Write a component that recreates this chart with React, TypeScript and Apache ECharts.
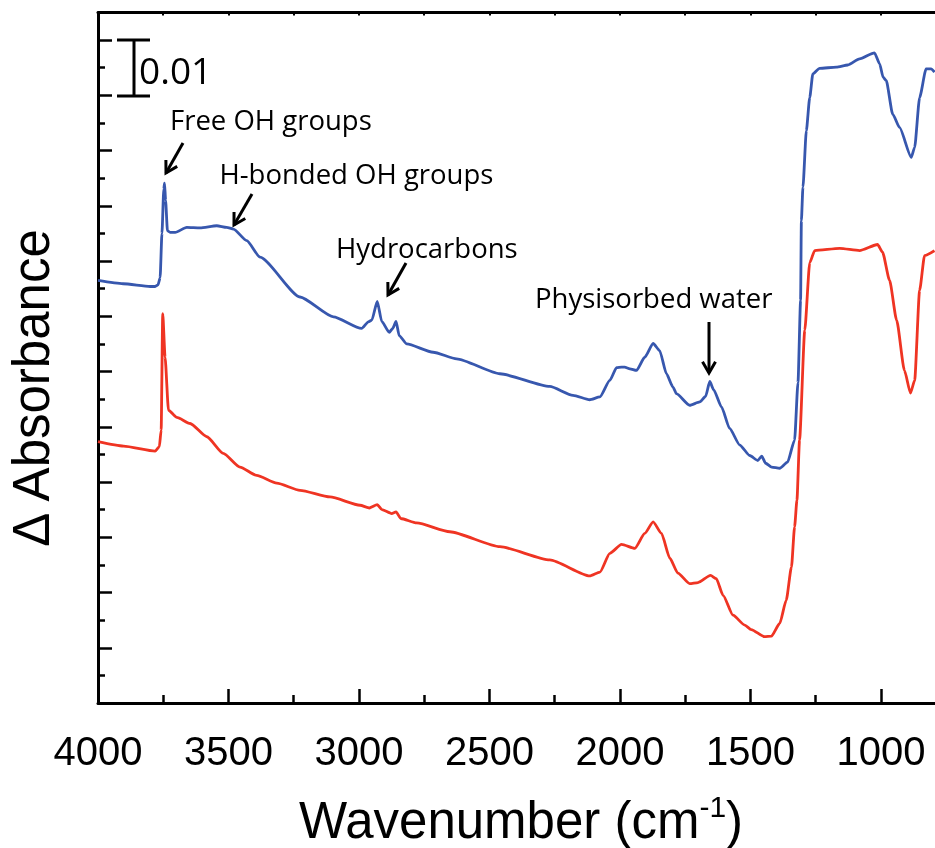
import React, { useEffect, useRef } from 'react';
import * as echarts from 'echarts';

// Wavenumber (cm-1), delta absorbance
const blueSpectrum: [number, number][] = [
  [4000, 0.0765], [3904, 0.0759], [3800, 0.0754], [3781, 0.0754], [3770, 0.0757], [3762, 0.077],
  [3755, 0.085], [3748, 0.093], [3745, 0.0941], [3741, 0.091], [3734, 0.0855], [3724, 0.0852],
  [3704, 0.0852], [3660, 0.0861], [3609, 0.086], [3545, 0.0864], [3507, 0.0861], [3481, 0.0858],
  [3430, 0.0837], [3379, 0.0807], [3226, 0.0735], [3098, 0.0699], [2990, 0.0678], [2964, 0.069],
  [2951, 0.0693], [2930, 0.0727], [2913, 0.0691], [2884, 0.0671], [2871, 0.0678], [2858, 0.0691],
  [2846, 0.0665], [2817, 0.065], [2716, 0.0635], [2626, 0.0623], [2460, 0.0596], [2269, 0.0573],
  [2180, 0.0557], [2116, 0.0549], [2077, 0.0554], [2039, 0.0584], [2013, 0.0607], [1994, 0.0608],
  [1982, 0.0608], [1962, 0.0605], [1937, 0.0602], [1905, 0.0626], [1873, 0.0651], [1848, 0.0638],
  [1822, 0.0596], [1797, 0.0572], [1784, 0.056], [1733, 0.0539], [1694, 0.0545], [1672, 0.0555],
  [1656, 0.0582], [1641, 0.0567], [1611, 0.0536], [1580, 0.0497], [1541, 0.0467], [1503, 0.0448],
  [1472, 0.0439], [1457, 0.0447], [1442, 0.0434], [1419, 0.0427], [1388, 0.0425], [1358, 0.0436],
  [1331, 0.0476], [1318, 0.058], [1308, 0.0729], [1305, 0.0873], [1299, 0.0934], [1286, 0.1036],
  [1273, 0.1096], [1261, 0.1139], [1235, 0.1149], [1171, 0.1151], [1127, 0.1155], [1082, 0.1166],
  [1025, 0.1177], [1005, 0.1157], [992, 0.1133], [980, 0.1127], [955, 0.1066], [929, 0.1042],
  [884, 0.0988], [871, 0.1006], [852, 0.1096], [827, 0.1148], [808, 0.1148], [795, 0.1142],
];

const redSpectrum: [number, number][] = [
  [4000, 0.0473], [3902, 0.0465], [3781, 0.0456], [3765, 0.0464], [3758, 0.0494], [3752, 0.0705],
  [3743, 0.0626], [3730, 0.053], [3698, 0.0517], [3647, 0.0506], [3583, 0.0482], [3520, 0.0452],
  [3456, 0.0427], [3392, 0.0412], [3315, 0.0398], [3226, 0.0385], [3111, 0.0373], [2996, 0.0358],
  [2960, 0.0353], [2930, 0.0359], [2912, 0.035], [2875, 0.0343], [2858, 0.0346], [2840, 0.0334],
  [2779, 0.0326], [2652, 0.031], [2460, 0.0283], [2269, 0.0259], [2116, 0.023], [2077, 0.0237],
  [2039, 0.0271], [1994, 0.0287], [1943, 0.028], [1905, 0.0307], [1873, 0.0328], [1841, 0.0307],
  [1809, 0.0262], [1778, 0.0235], [1733, 0.0216], [1701, 0.0218], [1653, 0.0231], [1631, 0.0225],
  [1605, 0.0195], [1567, 0.0159], [1522, 0.0141], [1497, 0.0133], [1446, 0.012], [1420, 0.0121],
  [1388, 0.0144], [1363, 0.0186], [1343, 0.0246], [1331, 0.0319], [1322, 0.0367], [1312, 0.0476],
  [1292, 0.0675], [1273, 0.0797], [1254, 0.0819], [1158, 0.0823], [1082, 0.0819], [1013, 0.083],
  [994, 0.0816], [967, 0.0765], [940, 0.0693], [910, 0.0602], [887, 0.0561], [871, 0.0584],
  [852, 0.0747], [833, 0.081], [795, 0.0819],
];

const xMajorTicks = [4000, 3500, 3000, 2500, 2000, 1500, 1000];
const xMinorTicks = [3750, 3250, 2750, 2250, 1750, 1250, 750];
const X_MIN = 793;
const X_MAX = 4000;

const annotations = ['Free OH groups', 'H-bonded OH groups', 'Hydrocarbons', 'Physisorbed water'];
const scaleBarLabel = '0.01';
const xTitle = 'Wavenumber (cm';
const xTitleSup = '-1';
const yTitle = 'Δ Absorbance';

const BLUE = '#3757AE';
const RED = '#EF3423';
const ANNOT_FONT = '"Open Sans", "Noto Sans", sans-serif';
const AXIS_FONT = '"Liberation Sans", Arial, sans-serif';

function arrow(x1: number, y1: number, x2: number, y2: number) {
  const dx = x2 - x1;
  const dy = y2 - y1;
  const L = Math.hypot(dx, dy);
  const ux = dx / L;
  const uy = dy / L;
  const h = 13;
  const a = Math.PI / 6;
  const rot = (t: number) => [ux * Math.cos(t) - uy * Math.sin(t), ux * Math.sin(t) + uy * Math.cos(t)];
  const r1 = rot(a);
  const r2 = rot(-a);
  return [
    { type: 'line', shape: { x1, y1, x2, y2 }, style: { stroke: '#000', lineWidth: 3 } },
    {
      type: 'polyline',
      shape: { points: [[x2 - h * r1[0], y2 - h * r1[1]], [x2, y2], [x2 - h * r2[0], y2 - h * r2[1]]] },
      style: { stroke: '#000', lineWidth: 3, fill: null },
    },
  ];
}

function annot(text: string, x: number, y: number, size = 27.5) {
  return {
    type: 'text',
    x,
    y,
    style: { text, fontSize: size, fontFamily: ANNOT_FONT, fill: '#000', align: 'left', verticalAlign: 'middle' },
  };
}

export default function App() {
  const ref = useRef<HTMLDivElement>(null);
  useEffect(() => {
    if (!ref.current) return;
    const chart = echarts.init(ref.current, undefined, { renderer: 'svg' });
    const lineAxis = { color: '#000', width: 3 };
    const tickStyle = { color: '#000', width: 2.5 };
    const option: any = {
      animation: false,
      grid: { left: 98, right: 0, top: 12.5, bottom: 145, containLabel: false },
      xAxis: [
        {
          type: 'value', inverse: true, min: X_MIN, max: X_MAX, position: 'bottom',
          axisLine: { show: true, onZero: false, lineStyle: lineAxis },
          axisTick: { show: true, inside: true, length: 14, customValues: xMajorTicks, lineStyle: tickStyle },
          axisLabel: {
            show: true, margin: 28, fontSize: 40, fontFamily: AXIS_FONT, color: '#000',
            customValues: xMajorTicks, formatter: (v: number) => String(v),
          },
          splitLine: { show: false },
        },
        {
          type: 'value', inverse: true, min: X_MIN, max: X_MAX, position: 'bottom',
          axisLine: { show: false, onZero: false },
          axisTick: { show: true, inside: true, length: 8, customValues: xMinorTicks, lineStyle: tickStyle },
          axisLabel: { show: false }, splitLine: { show: false },
        },
        {
          type: 'value', inverse: true, min: X_MIN, max: X_MAX, position: 'top',
          axisLine: { show: true, onZero: false, lineStyle: lineAxis },
          axisTick: {
            show: true, inside: true, length: 3, customValues: [...xMajorTicks, ...xMinorTicks],
            lineStyle: { color: '#000', width: 2 },
          },
          axisLabel: { show: false }, splitLine: { show: false },
        },
      ],
      yAxis: {
        type: 'value', min: 0, max: 0.125, interval: 0.01,
        axisLine: { show: true, onZero: false, lineStyle: lineAxis },
        axisTick: { show: true, inside: true, length: 14, lineStyle: tickStyle },
        minorTick: { show: true, splitNumber: 2, length: 7, lineStyle: tickStyle },
        axisLabel: { show: false }, splitLine: { show: false }, minorSplitLine: { show: false },
      },
      series: [
        {
          type: 'line', data: redSpectrum, xAxisIndex: 0, showSymbol: false, smooth: 0.2,
          smoothMonotone: 'x', lineStyle: { color: RED, width: 2.8 }, z: 3,
        },
        {
          type: 'line', data: blueSpectrum, xAxisIndex: 0, showSymbol: false, smooth: 0.2,
          smoothMonotone: 'x', lineStyle: { color: BLUE, width: 2.8 }, z: 3,
        },
      ],
      graphic: [
        {
          type: 'text', x: 31.5, y: 388, rotation: Math.PI / 2,
          style: { text: yTitle, fontSize: 51, fontFamily: AXIS_FONT, fill: '#000', align: 'center', verticalAlign: 'middle' },
        },
        {
          type: 'text', x: 521, y: 820,
          style: {
            text: `{a|${xTitle}}{s|${xTitleSup}}{a|)}`,
            align: 'center', verticalAlign: 'middle', fill: '#000',
            rich: {
              a: { fontSize: 51, fontFamily: AXIS_FONT, fill: '#000', lineHeight: 58 },
              s: { fontSize: 30, fontFamily: AXIS_FONT, fill: '#000', verticalAlign: 'top', lineHeight: 58, padding: [0, 0, 22, 0] },
            },
          },
        },
        annot(annotations[0], 170, 119),
        annot(annotations[1], 219.5, 173.5),
        annot(annotations[2], 336, 247.5),
        annot(annotations[3], 535, 297.5),
        ...arrow(183, 143, 166, 173),
        ...arrow(252, 194, 234, 225),
        ...arrow(406, 263, 388, 295),
        ...arrow(709, 322, 709, 373),
        {
          type: 'polyline',
          shape: { points: [[117, 40], [150, 40]] },
          style: { stroke: '#000', lineWidth: 3, fill: null },
        },
        {
          type: 'polyline',
          shape: { points: [[117, 96], [150, 96]] },
          style: { stroke: '#000', lineWidth: 3, fill: null },
        },
        {
          type: 'line', shape: { x1: 134, y1: 40, x2: 134, y2: 96 },
          style: { stroke: '#000', lineWidth: 3 },
        },
        annot(scaleBarLabel, 139, 69, 37),
      ],
    };
    chart.setOption(option);
    return () => chart.dispose();
  }, []);
  return <div ref={ref} style={{ position: 'fixed', left: 0, top: 0, width: 935, height: 848 }} />;
}
